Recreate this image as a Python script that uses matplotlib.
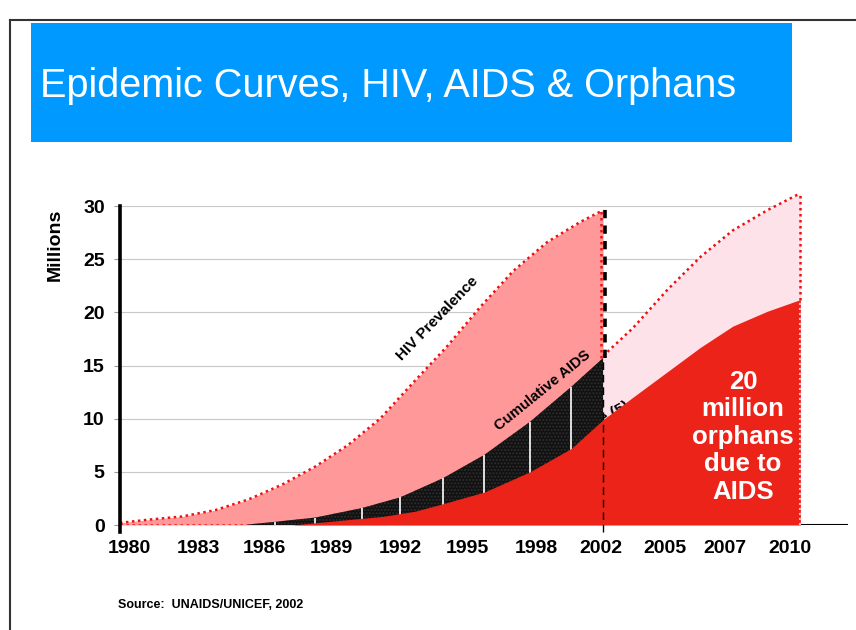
import numpy as np
import matplotlib.pyplot as plt
from matplotlib.lines import Line2D
from matplotlib.patches import Rectangle

plt.rcParams['font.family'] = ['Liberation Sans', 'DejaVu Sans']

# Годы на оси X (категории) и их позиции в "слотах"
years = ['1980', '1983', '1986', '1989', '1992', '1995', '1998', '2002', '2005', '2007', '2010']
year_pos = [0.13, 1.13, 2.09, 3.07, 4.06, 5.04, 6.04, 6.97, 7.9, 8.77, 9.71]

# Распространённость ВИЧ (до 2002)
hiv_x = [0, 0.41, 0.90, 1.38, 1.86, 2.35, 2.83, 3.30, 3.77, 4.25, 4.74, 5.22, 5.70, 6.19, 6.67, 7.0]
hiv_y = [0.2, 0.5, 0.8, 1.4, 2.4, 3.8, 5.5, 7.5, 10.0, 13.4, 16.8, 20.5, 23.9, 26.6, 28.5, 29.6]

# Прогноз после 2002
proj_x = [7.0, 7.43, 7.93, 8.41, 8.88, 9.38, 9.86]
proj_y = [15.9, 18.5, 22.1, 25.2, 27.7, 29.6, 31.2]

# Кумулятивный СПИД
aids_x = [1.86, 2.25, 2.83, 3.51, 4.06, 4.68, 5.28, 5.94, 6.54, 7.0]
aids_y = [0.05, 0.3, 0.7, 1.6, 2.6, 4.4, 6.6, 9.7, 13.0, 15.7]

# Сироты
orph_x = [2.49, 3.30, 3.80, 4.28, 4.68, 5.28, 5.94, 6.54, 7.0, 7.43, 7.93, 8.41, 8.88, 9.38, 9.86]
orph_y = [0, 0.5, 0.8, 1.3, 2.0, 3.1, 5.0, 7.2, 9.9, 12.0, 14.4, 16.7, 18.7, 20.1, 21.2]

fig = plt.figure(figsize=(8.56, 6.3), dpi=100)

# рамка слайда
fig.add_artist(Line2D([10/856, 10/856], [0, 610/630], color='#333333', lw=1.5))
fig.add_artist(Line2D([10/856, 1], [610/630, 610/630], color='#333333', lw=1.5))

# синяя плашка заголовка
fig.add_artist(Rectangle((31/856, (630-142)/630), (792-31)/856, (142-23)/630,
                         transform=fig.transFigure, color='#0099FF', lw=0))
fig.text(40/856, (630-86)/630, 'Epidemic Curves, HIV, AIDS & Orphans',
         color='white', fontsize=28.5, va='center', ha='left')

ax = fig.add_axes([120/856, 105/630, 728/856, 319/630])
ax.set_xlim(0, 10.55)
ax.set_ylim(0, 30)
for s in ax.spines.values():
    s.set_visible(False)

# сетка
ax.hlines(range(5, 31, 5), 0, 9.86, color='#C8C8C8', lw=0.8, zorder=0)
ax.plot([0, 10.55], [0, 0], color='black', lw=1.5, zorder=1)

red = '#EC2318'
dred = '#F01010'
dots = (0, (1, 1.4))

ax.fill_between(hiv_x, 0, hiv_y, color='#FF9999', lw=0, zorder=2)
pr = ax.fill_between(proj_x, 0, proj_y, color='#FDE2EA', lw=0, zorder=2)
pr.set_clip_on(False)
ax.plot([0, 2.5], [0, 0], color=dred, lw=1.8, ls=dots, zorder=2.5)

# подпись сирот почти целиком скрыта под заливками, видно только "(5)"
ax.text(6.48, 8.1, 'Orphans to date (5)', rotation=29, fontsize=11,
        fontweight='bold', ha='center', va='center', zorder=2.8)

ax.fill_between(aids_x, 0, aids_y, facecolor='#111111', edgecolor='#2e2e2e',
                hatch='.....', lw=0, zorder=3)
ax.vlines(aids_x[1:-1], 0, aids_y[1:-1], color='white', lw=1.2, zorder=3.4)

ax.fill_between(orph_x, 0, orph_y, color=red, lw=0, zorder=7)

# красные пунктирные контуры
ax.plot(hiv_x, hiv_y, color=dred, lw=1.8, ls=dots, zorder=5)
ax.plot(proj_x, proj_y, color=dred, lw=1.8, ls=dots, zorder=5, clip_on=False)
ax.plot([6.97, 6.97], [aids_y[-1], hiv_y[-1]], color=dred, lw=1.8, ls=dots, zorder=5)
ax.plot([proj_x[-1]] * 2, [orph_y[-1], proj_y[-1]], color=dred, lw=1.8, ls=dots,
        zorder=5, clip_on=False)
ax.plot([proj_x[-1]] * 2, [0, orph_y[-1]], color='#FFB3C0', lw=1.5, ls=dots, zorder=7.5)

# вертикальная линия 2002
ax.plot([7.03, 7.03], [aids_y[-1], 30], color='black', lw=2.6, dashes=(2.3, 2), zorder=6)
ax.plot([7.0, 7.0], [-0.7, aids_y[-1]], color='black', lw=1, dashes=(5.5, 3.5),
        zorder=7.6, clip_on=False)

# ось Y
ax.plot([0, 0], [-0.7, 30], color='black', lw=2.6, zorder=8, clip_on=False)

ax.set_yticks(range(0, 31, 5))
ax.set_yticklabels([str(v) for v in range(0, 31, 5)], fontsize=14, fontweight='bold')
ax.tick_params(axis='y', length=4, color='#999999', pad=7)
ax.set_xticks(year_pos)
ax.set_xticklabels(years, fontsize=14, fontweight='bold')
ax.tick_params(axis='x', length=0, pad=11)

ax.text(4.6, 19.4, 'HIV Prevalence', rotation=46, fontsize=11, fontweight='bold',
        ha='center', va='center', zorder=9)
ax.text(6.12, 12.6, 'Cumulative AIDS', rotation=39, fontsize=10.7, fontweight='bold',
        ha='center', va='center', zorder=9)
ax.text(9.03, 8.3, '20\nmillion\norphans\ndue to\nAIDS', color='white', fontsize=18.5,
        fontweight='bold', ha='center', va='center', linespacing=1.18, zorder=9)

fig.text(55/856, (630-245)/630, 'Millions', rotation=90, fontsize=14,
         fontweight='bold', ha='center', va='center')
fig.text(118/856, (630-605)/630, 'Source:  UNAIDS/UNICEF, 2002', fontsize=9,
         fontweight='bold', ha='left', va='center')

fig.savefig('out.png', dpi=100)
